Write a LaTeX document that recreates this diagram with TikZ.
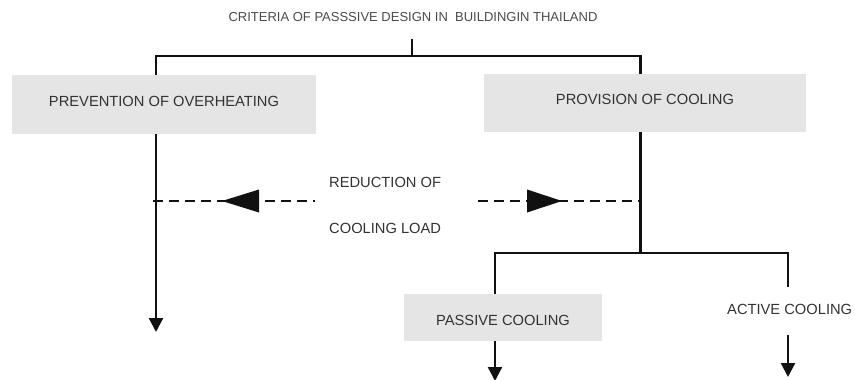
\documentclass[tikz,border=0pt]{standalone}
\usepackage{fontspec}
\setmainfont{Liberation Sans}
\usetikzlibrary{arrows.meta}
\definecolor{boxgray}{HTML}{E5E5E5}
\definecolor{txtgray}{HTML}{333333}
\definecolor{titlegray}{HTML}{4A4A4A}
\definecolor{linecol}{HTML}{111111}
\begin{document}
\begin{tikzpicture}[x=1pt,y=-1pt,
  conn/.style={draw=linecol, line width=2.2pt},
  arr/.style={conn, -{Triangle[length=14pt,width=14pt]}},
  dashline/.style={draw=linecol, line width=2.2pt, dash pattern=on 10pt off 6pt},
  bigtip/.style={fill=linecol},
  lbl/.style={text=txtgray, font=\fontsize{14.7}{17}\selectfont, inner sep=0pt},
  graybox/.style={lbl, fill=boxgray, draw=none}]
\useasboundingbox (0,0) rectangle (855,380);

% title
\node[inner sep=0pt, text=titlegray, font=\fontsize{13}{15}\selectfont] (title) at (413,17)
  {CRITERIA OF PASSSIVE DESIGN IN\ \ BUILDINGIN THAILAND};

% boxes
\node[graybox, minimum width=304pt, minimum height=59pt, text height=10.5pt, text depth=7pt] (prev) at (164,104.5) {PREVENTION OF OVERHEATING};
\node[graybox, minimum width=322pt, minimum height=58pt, text height=10.5pt, text depth=7pt] (prov) at (645,103) {PROVISION OF COOLING};
\node[graybox, minimum width=198pt, minimum height=47pt, text height=15.5pt, text depth=0pt] (pass) at (503,317.5) {PASSIVE COOLING};

% plain labels
\node[lbl, anchor=west] (red) at (329,182.5) {REDUCTION OF};
\node[lbl, anchor=west] (load) at (329,228) {COOLING LOAD};
\node[lbl, anchor=west] (act) at (727,309) {ACTIVE COOLING};

% helper coordinates
\coordinate (xl) at (156,0);
\coordinate (xr) at (640.5,0);
\coordinate (xp) at (495,0);
\coordinate (xa) at (788,0);
\coordinate (j1) at (412,39);
\coordinate (j1b) at (412,56);
\coordinate (j2) at (640.5,253);
\coordinate (actTop) at (788,287);
\coordinate (leftEnd) at (156,332);
\coordinate (passEnd) at (495,381);
\coordinate (actStart) at (788,335);
\coordinate (actEnd) at (788,377);

% top tree
\draw[conn] (j1) -- (j1b);
\draw[conn] (xl |- prev.north) |- (j1b) -| (xr |- prov.north);

% left arrow down
\draw[arr] (xl |- prev.south) -- (leftEnd);

% right branch
\draw[conn] (xr |- prov.south) -- (j2);
\draw[conn] (xp |- pass.north) |- (j2) -| (actTop);
\draw[arr] (xp |- pass.south) -- (passEnd);
\draw[arr] (actStart) -- (actEnd);

% dashed reduction arrows
\coordinate (dl1) at (153,201);
\coordinate (dl2) at (315,201);
\coordinate (dr1) at (478,201);
\coordinate (dr2) at (640.5,201);
\draw[dashline] (dl1) -- (dl2);
\draw[dashline] (dr1) -- (dr2);
\fill[bigtip] (222,201) -- (259,189.5) -- (259,212.5) -- cycle;
\fill[bigtip] (562,201) -- (527,189.5) -- (527,212.5) -- cycle;
\end{tikzpicture}
\end{document}
